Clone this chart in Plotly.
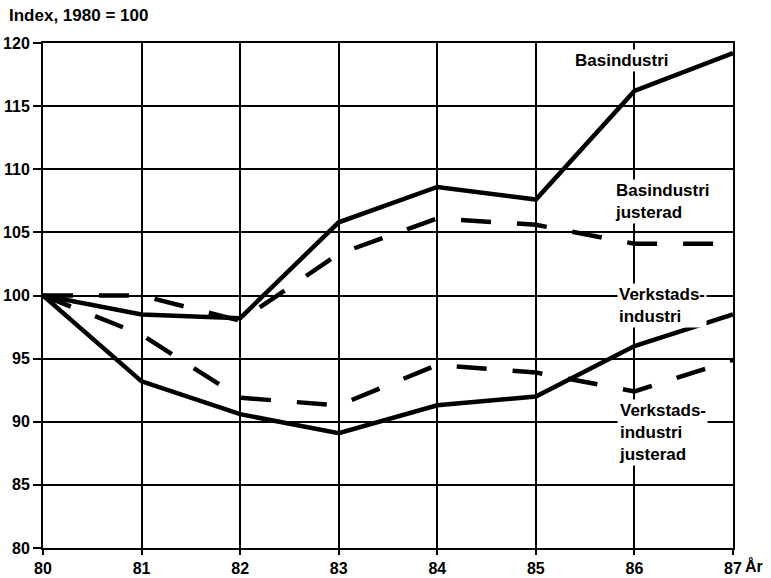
import plotly.graph_objects as go

years = [80, 81, 82, 83, 84, 85, 86, 87]
year_labels = ["80", "81", "82", "83", "84", "85", "86", "87"]
bas = [100, 98.5, 98.2, 105.8, 108.6, 107.6, 116.2, 119.2]
bas_just = [100, 100, 98.0, 103.3, 106.1, 105.6, 104.1, 104.1]
verk = [100, 93.2, 90.6, 89.1, 91.3, 92.0, 96.0, 98.5]
verk_just = [100, 96.9, 91.9, 91.3, 94.5, 93.9, 92.4, 94.9]
y_ticks = [80, 85, 90, 95, 100, 105, 110, 115, 120]

FONT = "Liberation Sans"
fig = go.Figure()
fig.add_trace(go.Scatter(x=years, y=bas, mode="lines", line=dict(color="black", width=4.5)))
fig.add_trace(go.Scatter(x=years, y=bas_just, mode="lines", line=dict(color="black", width=4.5, dash="30px,26px")))
fig.add_trace(go.Scatter(x=years, y=verk, mode="lines", line=dict(color="black", width=4.5)))
fig.add_trace(go.Scatter(x=years, y=verk_just, mode="lines", line=dict(color="black", width=4.5, dash="30px,26px")))

labels = [
    (85.38, 118.65, "Basindustri"),
    (85.78, 107.41, "Basindustri<br>justerad"),
    (85.82, 99.18, "Verkstads-<br>industri"),
    (85.82, 89.12, "Verkstads-<br>industri<br>justerad"),
]
for x, y, t in labels:
    fig.add_annotation(x=x, y=y, text="<b>" + t + "</b>", showarrow=False, xanchor="left", yanchor="middle",
                       align="left", bgcolor="white", borderpad=1,
                       font=dict(family=FONT, size=17, color="black"))

fig.add_annotation(xref="paper", yref="paper", x=-0.052, y=1.055, text="<b>Index, 1980 = 100</b>", showarrow=False,
                   xanchor="left", yanchor="middle", font=dict(family=FONT, size=17, color="black"))
fig.add_annotation(xref="paper", yref="paper", x=1.015, y=-0.036, text="<b>År</b>", showarrow=False,
                   xanchor="left", yanchor="middle", font=dict(family=FONT, size=16, color="black"))

fig.update_layout(
    width=771, height=578, showlegend=False,
    margin=dict(l=43, r=38, t=43, b=30),
    plot_bgcolor="white", paper_bgcolor="white",
    font=dict(family=FONT, size=16, color="black"),
)
fig.update_xaxes(range=[80, 87], tickvals=years, ticktext=["<b>" + t + "</b>" for t in year_labels],
                 showgrid=True, gridcolor="black", gridwidth=2, showline=True, linecolor="black", linewidth=2,
                 mirror=True, ticks="outside", ticklen=5, tickwidth=2, tickcolor="black", zeroline=False,
                 automargin=False)
fig.update_yaxes(range=[80, 120], tickvals=y_ticks, ticktext=["<b>%d</b>" % v for v in y_ticks],
                 showgrid=True, gridcolor="black", gridwidth=2, showline=True, linecolor="black", linewidth=2,
                 mirror=True, ticks="outside", ticklen=8, tickwidth=2, tickcolor="black", zeroline=False,
                 automargin=False)

fig.write_html("out.html", config={"displayModeBar": False, "staticPlot": True},
               post_script="document.body.style.margin='0px';document.body.style.overflow='hidden';")
